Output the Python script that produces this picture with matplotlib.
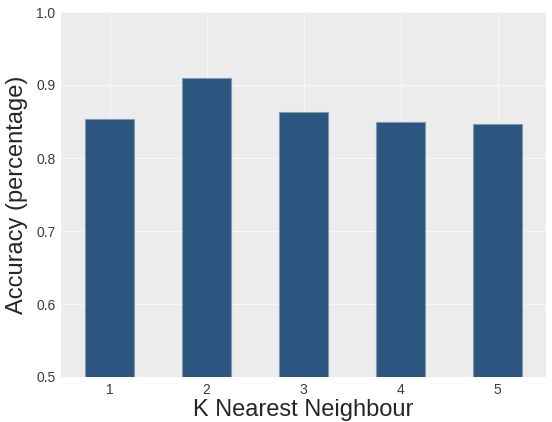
import matplotlib
matplotlib.use("Agg")
import matplotlib.pyplot as plt
import numpy as np

k_values = ["1", "2", "3", "4", "5"]
accuracy = [0.854, 0.909, 0.8625, 0.850, 0.846]
y_ticks = [0.5, 0.6, 0.7, 0.8, 0.9, 1.0]

plt.rcParams['font.family'] = ['Liberation Sans', 'DejaVu Sans']

fig = plt.figure(figsize=(5.52, 4.22), dpi=100)
ax = fig.add_axes([61/552, 1-377/422, (546-61)/552, (377-12)/422])
ax.set_facecolor('#ECECEC')
ax.set_axisbelow(True)
ax.grid(True, color='#F7F7F7', linewidth=0.8)

x = np.arange(len(k_values))
ax.bar(x, accuracy, width=0.5, color='#2C5680', edgecolor='#7F99B5', linewidth=0.8)

ax.set_xlim(-0.5, 4.5)
ax.set_ylim(0.5, 1.0)
ax.set_xticks(x)
ax.set_xticklabels(k_values)
ax.set_yticks(y_ticks)
ax.set_yticklabels([f"{v:.1f}" for v in y_ticks])
ax.tick_params(axis='both', length=0, labelsize=10, colors='#3A3A3A', pad=4)
for s in ax.spines.values():
    s.set_visible(False)

ax.set_xlabel("K Nearest Neighbour", fontsize=17, color='#262626', labelpad=2)
ax.set_ylabel("Accuracy (percentage)", fontsize=17, color='#262626', labelpad=6)

fig.savefig("out.png", dpi=100)
